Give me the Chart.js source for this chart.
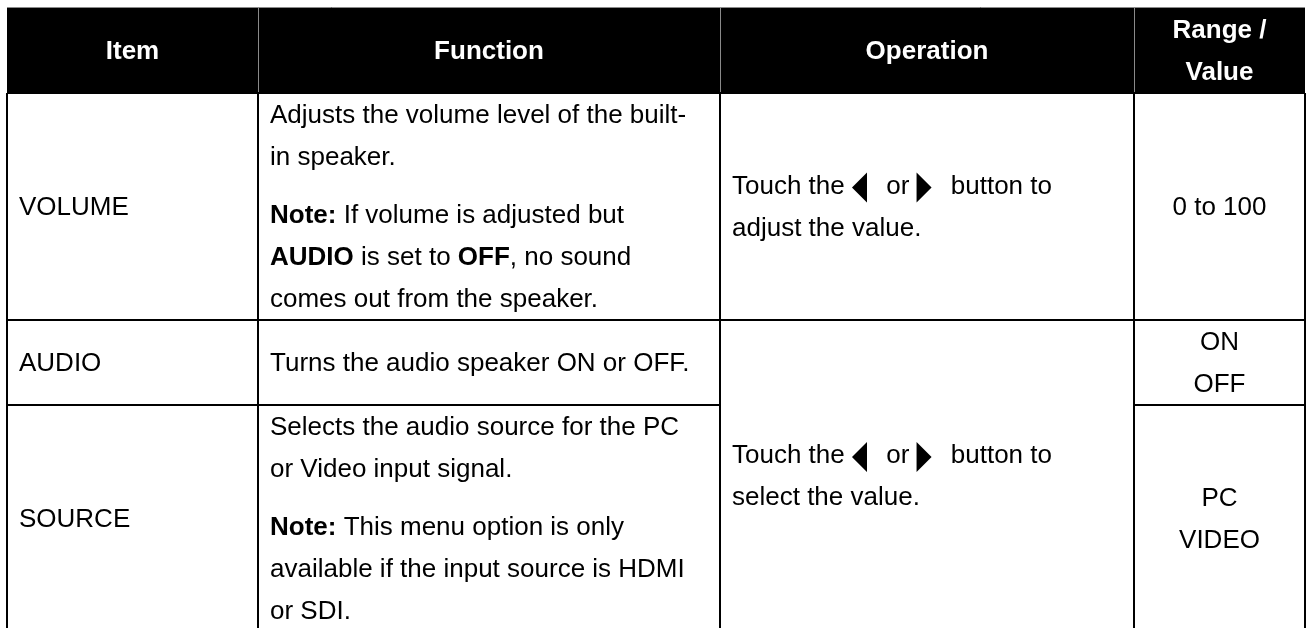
<!DOCTYPE html>
<html>
<head>
<meta charset="utf-8">
<script src="https://cdn.jsdelivr.net/npm/chart.js@4"></script>
<style>
  html, body { margin: 0; padding: 0; background: #fff; }
  canvas { display: block; }
</style>
</head>
<body>
<canvas id="tabela" width="1308" height="628"></canvas>
<script>
// conteúdo da tabela
const headers = [['Item'], ['Function'], ['Operation'], ['Range /', 'Value']]
const items = ['VOLUME', 'AUDIO', 'SOURCE']
const functions = [
  ['Adjusts the volume level of the built-', 'in speaker.', '',
   '**Note:** If volume is adjusted but', '**AUDIO** is set to **OFF**, no sound', 'comes out from the speaker.'],
  ['Turns the audio speaker ON or OFF.'],
  ['Selects the audio source for the PC', 'or Video input signal.', '',
   '**Note:** This menu option is only', 'available if the input source is HDMI', 'or SDI.']
]
const operations = [
  ['Touch the {L} or {R} button to', 'adjust the value.'],
  ['Touch the {L} or {R} button to', 'select the value.']
]
const operationSpans = [1, 2]
const ranges = [['0 to 100'], ['ON', 'OFF'], ['PC', 'VIDEO']]

// layout
const colEdges = [7, 258, 720, 1134, 1305]
const tableTop = 7
const lineH = 42
const paraGap = 16
const pad = 0.5
const fontSize = 26
const family = '"Liberation Sans", Arial, Helvetica, sans-serif'

function blockHeight(lines) {
  let h = 0
  lines.forEach(l => { h += (l === '' ? paraGap : lineH) })
  return h
}

const headerH = 2 * lineH + 2
const rowH = items.map((it, r) => {
  let h = Math.max(blockHeight([it]), blockHeight(functions[r]), blockHeight(ranges[r]))
  return h + 2 * pad
})
const rowTops = []
let acc = tableTop + headerH
rowH.forEach(h => { rowTops.push(acc); acc += h })
const tableBottom = acc

function segments(line) {
  return line.split(/(\*\*.*?\*\*|\{L\}|\{R\})/).filter(s => s !== '')
}

function lineWidth(ctx, line) {
  let w = 0
  segments(line).forEach(s => {
    if (s === '{L}' || s === '{R}') { w += 27; return }
    const bold = s.startsWith('**')
    ctx.font = (bold ? 'bold ' : '') + fontSize + 'px ' + family
    w += ctx.measureText(bold ? s.slice(2, -2) : s).width
  })
  return w
}

function drawLine(ctx, line, px, py, baseBold) {
  segments(line).forEach(s => {
    if (s === '{L}' || s === '{R}') {
      // setas ◀ ▶ desenhadas como triângulos
      ctx.beginPath()
      if (s === '{L}') {
        ctx.moveTo(px + 15, py - 14)
        ctx.lineTo(px + 15, py + 16)
        ctx.lineTo(px, py + 1)
      } else {
        ctx.moveTo(px, py - 14)
        ctx.lineTo(px, py + 16)
        ctx.lineTo(px + 15, py + 1)
      }
      ctx.closePath()
      ctx.fill()
      px += 27
      return
    }
    const bold = baseBold || s.startsWith('**')
    const txt = s.startsWith('**') ? s.slice(2, -2) : s
    ctx.font = (bold ? 'bold ' : '') + fontSize + 'px ' + family
    ctx.fillText(txt, px, py)
    px += ctx.measureText(txt).width
  })
}

// desenha um bloco de linhas numa célula
function drawBlock(chart, lines, c, top, bottom, align, color, bold, dy) {
  const { ctx, scales: { x, y } } = chart
  const h = blockHeight(lines)
  let cy = (top + bottom) / 2 - h / 2 + (dy || 0)
  ctx.fillStyle = color
  ctx.textBaseline = 'middle'
  ctx.textAlign = 'left'
  lines.forEach(l => {
    if (l === '') { cy += paraGap; return }
    const mid = cy + lineH / 2
    let px
    if (align === 'center') {
      ctx.font = (bold ? 'bold ' : '') + fontSize + 'px ' + family
      const w = bold ? ctx.measureText(l).width : lineWidth(ctx, l)
      px = (x.getPixelForValue(colEdges[c]) + x.getPixelForValue(colEdges[c + 1])) / 2 - w / 2
    } else {
      px = x.getPixelForValue(colEdges[c] + 12)
    }
    drawLine(ctx, l, px, y.getPixelForValue(mid), bold)
    cy += lineH
  })
}

const tablePlugin = {
  id: 'tabela',
  afterDraw(chart) {
    const { ctx, scales: { x, y } } = chart
    const X = v => x.getPixelForValue(v)
    const Y = v => y.getPixelForValue(v)
    ctx.save()

    // cabeçalho
    const hTop = tableTop, hBot = tableTop + headerH
    ctx.fillStyle = '#000'
    ctx.fillRect(X(colEdges[0]), Y(hTop), X(colEdges[4]) - X(colEdges[0]), Y(hBot) - Y(hTop))
    ctx.strokeStyle = '#8a8a8a'
    ctx.lineWidth = 1
    ctx.beginPath()
    ctx.moveTo(X(colEdges[0]), Y(hTop) + 0.5); ctx.lineTo(X(colEdges[4]), Y(hTop) + 0.5)
    colEdges.slice(1, 4).forEach(e => {
      ctx.moveTo(X(e) + 0.5, Y(hTop)); ctx.lineTo(X(e) + 0.5, Y(hBot))
    })
    ctx.stroke()
    headers.forEach((hd, c) => drawBlock(chart, hd, c, hTop, hBot, 'center', '#fff', true, 2))

    // linhas da grade
    ctx.strokeStyle = '#000'
    ctx.lineWidth = 2
    ctx.beginPath()
    colEdges.forEach(e => {
      ctx.moveTo(X(e), Y(hBot)); ctx.lineTo(X(e), Y(tableBottom))
    })
    ctx.moveTo(X(colEdges[0]), Y(hBot)); ctx.lineTo(X(colEdges[4]), Y(hBot))
    let opRow = 0
    const opBreaks = new Set()
    operationSpans.forEach(s => { opRow += s; opBreaks.add(opRow) })
    for (let r = 1; r <= items.length; r++) {
      const yy = r < items.length ? rowTops[r] : tableBottom
      if (opBreaks.has(r)) {
        ctx.moveTo(X(colEdges[0]), Y(yy)); ctx.lineTo(X(colEdges[4]), Y(yy))
      } else {
        ctx.moveTo(X(colEdges[0]), Y(yy)); ctx.lineTo(X(colEdges[2]), Y(yy))
        ctx.moveTo(X(colEdges[3]), Y(yy)); ctx.lineTo(X(colEdges[4]), Y(yy))
      }
    }
    ctx.stroke()

    // corpo
    items.forEach((it, r) => {
      const top = rowTops[r], bot = top + rowH[r]
      drawBlock(chart, [it], 0, top, bot, 'left', '#000', false, 1)
      drawBlock(chart, functions[r], 1, top, bot, 'left', '#000', false, 1)
      drawBlock(chart, ranges[r], 3, top, bot, 'center', '#000', false, 1)
    })
    let start = 0
    operations.forEach((op, i) => {
      const end = start + operationSpans[i]
      const top = rowTops[start]
      const bot = end < items.length ? rowTops[end] : tableBottom
      drawBlock(chart, op, 2, top, bot, 'left', '#000', false, 1)
      start = end
    })
    ctx.restore()
  }
}

const ctx = document.getElementById('tabela')
new Chart(ctx, {
  type: 'scatter',
  data: { datasets: [{ data: [] }] },
  options: {
    responsive: false,
    animation: false,
    layout: { padding: 0 },
    scales: {
      x: { type: 'linear', min: 0, max: 1308, display: false },
      y: { type: 'linear', min: 0, max: 628, reverse: true, display: false }
    },
    plugins: { legend: { display: false }, tooltip: { enabled: false } }
  },
  plugins: [tablePlugin]
})
</script>
</body>
</html>
